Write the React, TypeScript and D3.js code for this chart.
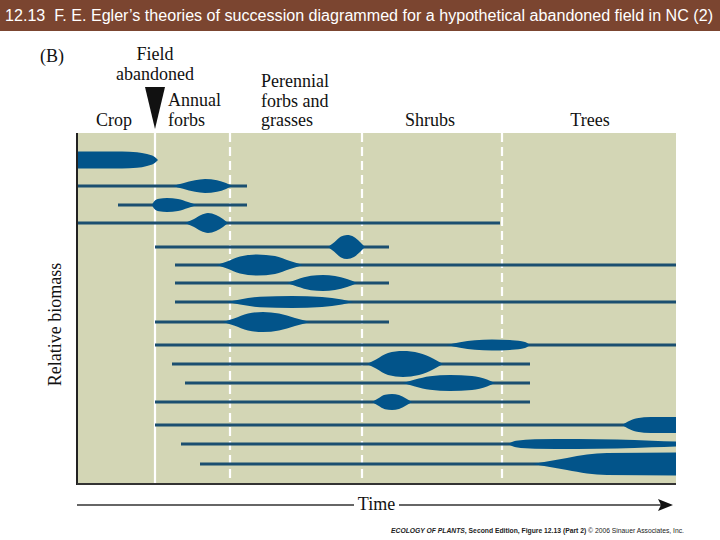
import React from "react";
import * as d3 from "d3";

// ---- Data (time units along x, row level & half-thickness in biomass units) ----
const phaseLabels = ["Crop", "Annual forbs", "Perennial forbs and grasses", "Shrubs", "Trees"];
const fieldAbandoned = 78;
const phaseBoundaries = [153, 285, 425];

const rowLevels = [27, 53, 72, 90, 114, 132, 150, 169, 189, 212, 231, 250, 269, 292, 311, 331];
// presence line [start, end] per row (null = no line)
const rowSpans: ([number, number] | null)[] = [
  null,
  [0, 170],
  [41, 170],
  [0, 423],
  [78, 312],
  [98, 599],
  [98, 312],
  [98, 599],
  [78, 312],
  [78, 599],
  [95, 453],
  [108, 453],
  [78, 453],
  [78, 599],
  [104, 599],
  [123, 599],
];
// biomass profile per row: [time, half-thickness]
const rowProfiles: [number, number][][] = [
  [[0, 8.5], [45, 8.5], [60, 7.8], [70, 6], [77, 3.5], [81, 0]],
  [[96, 0], [106, 2.8], [118, 5.8], [128, 7], [140, 5.8], [149, 3], [155, 0]],
  [[75, 0], [77, 3.5], [82, 6.2], [90, 7], [101, 6], [111, 3], [120, 0]],
  [[108, 0], [116, 3.5], [124, 8], [131, 10], [139, 8], [146, 4], [151, 0]],
  [[251, 0], [257, 4.5], [264, 10.5], [270, 12], [277, 10], [283, 5], [288, 0]],
  [[140, 0], [150, 3.5], [163, 8.5], [180, 10.5], [198, 9], [213, 4], [226, 0]],
  [[210, 0], [220, 3.5], [234, 7.2], [246, 8], [258, 7], [270, 4], [280, 0]],
  [[150, 0], [163, 2.5], [183, 5.2], [215, 6], [245, 5], [265, 2.5], [276, 0]],
  [[146, 0], [157, 3.5], [171, 8.5], [186, 10], [202, 8.5], [218, 4], [233, 0]],
  [[370, 0], [383, 2.8], [398, 4.8], [415, 5.5], [435, 4.8], [448, 3], [453, 0]],
  [[290, 0], [299, 4.5], [311, 11], [326, 13], [342, 11], [356, 5.5], [366, 0]],
  [[326, 0], [338, 3.5], [353, 6.8], [373, 8], [395, 7], [410, 3.5], [418, 0]],
  [[295, 0], [301, 3.5], [308, 7.2], [315, 8], [322, 7], [329, 3.5], [335, 0]],
  [[545, 0], [551, 3.5], [560, 6.8], [574, 8], [599, 8]],
  [[431, 0], [439, 3.2], [458, 4.7], [500, 5], [540, 4.5], [575, 3.3], [599, 2.4]],
  [[456, 0], [470, 2.5], [490, 6], [510, 9.5], [530, 11], [599, 11.5]],
];

const titleText =
  "12.13  F. E. Egler\u2019s theories of succession diagrammed for a hypothetical abandoned field in NC (2)";

export default function App() {
  const W = 720;
  const H = 540;
  const plotLeft = 77;
  const plotRight = 676;
  const plotTop = 133;
  const plotBottom = 484;

  const x = d3.scaleLinear().domain([0, 599]).range([plotLeft, plotRight]);
  const y = d3.scaleLinear().domain([0, 351]).range([plotTop, plotBottom]);
  const h = (v: number) => y(v) - y(0);

  const blobColor = "#02548a";
  const lineColor = "#1b4f70";
  const serif = "'Liberation Serif', 'DejaVu Serif', serif";
  const sans = "'Liberation Sans', Arial, sans-serif";

  return (
    <svg
      width={W}
      height={H}
      viewBox={`0 0 ${W} ${H}`}
      style={{ position: "absolute", left: 0, top: 0, background: "#fff" }}
    >
      {/* Title bar */}
      <rect x={0} y={0} width={W} height={31} fill="#7b4530" />
      <text
        x={5}
        y={21}
        fill="#fff"
        fontFamily={sans}
        fontSize={16}
        textLength={708}
        lengthAdjust="spacingAndGlyphs"
        style={{ whiteSpace: "pre" }}
      >
        {titleText}
      </text>

      {/* Plot background */}
      <rect
        x={plotLeft}
        y={plotTop}
        width={plotRight - plotLeft}
        height={plotBottom - plotTop}
        fill="#d3d6b5"
      />

      {/* Field abandoned line */}
      <line
        x1={x(fieldAbandoned)}
        x2={x(fieldAbandoned)}
        y1={plotTop}
        y2={plotBottom}
        stroke="#fff"
        strokeWidth={2.2}
      />
      {phaseBoundaries.map((b, i) => (
        <line
          key={i}
          x1={x(b)}
          x2={x(b)}
          y1={plotTop}
          y2={plotBottom}
          stroke="#fff"
          strokeWidth={2.2}
          strokeDasharray="9,5"
        />
      ))}

      {/* Presence lines */}
      {rowSpans.map((s, i) =>
        s ? (
          <line
            key={"l" + i}
            x1={x(s[0])}
            x2={x(s[1])}
            y1={y(rowLevels[i])}
            y2={y(rowLevels[i])}
            stroke={lineColor}
            strokeWidth={3}
          />
        ) : null
      )}

      {/* Biomass blobs */}
      {rowProfiles.map((p, i) => {
        const area = d3
          .area<[number, number]>()
          .x((d) => x(d[0]))
          .y0((d) => y(rowLevels[i]) - h(d[1]))
          .y1((d) => y(rowLevels[i]) + h(d[1]))
          .curve(d3.curveMonotoneX);
        return <path key={"b" + i} d={area(p) || ""} fill={blobColor} />;
      })}

      {/* Axes frame */}
      <line x1={plotLeft} x2={plotLeft} y1={plotTop} y2={plotBottom + 1} stroke="#222" strokeWidth={2} />
      <line x1={plotLeft} x2={plotRight} y1={plotBottom} y2={plotBottom} stroke="#333" strokeWidth={2} />

      {/* Top labels */}
      <g fontFamily={serif} fontSize={18} fill="#111">
        <text x={40} y={62}>(B)</text>
        <text x={x(fieldAbandoned)} y={60} textAnchor="middle">Field</text>
        <text x={x(fieldAbandoned)} y={80} textAnchor="middle">abandoned</text>
        <text x={96} y={126}>{phaseLabels[0]}</text>
        <text x={168} y={106}>Annual</text>
        <text x={168} y={126}>forbs</text>
        <text x={261} y={87}>Perennial</text>
        <text x={261} y={107}>forbs and</text>
        <text x={261} y={126}>grasses</text>
        <text x={430} y={126} textAnchor="middle">{phaseLabels[3]}</text>
        <text x={590} y={126} textAnchor="middle">{phaseLabels[4]}</text>
      </g>
      <path
        d={`M${x(fieldAbandoned) - 10},87 L${x(fieldAbandoned) + 10},87 L${x(fieldAbandoned)},129 Z`}
        fill="#111"
      />

      {/* Y label */}
      <text
        transform={`translate(61,${(plotTop + plotBottom) / 2 + 16}) rotate(-90)`}
        textAnchor="middle"
        fontFamily={serif}
        fontSize={18}
        fill="#111"
      >
        Relative biomass
      </text>

      {/* Time arrow */}
      <line x1={plotLeft} x2={354} y1={505} y2={505} stroke="#333" strokeWidth={1.3} />
      <line x1={399} x2={662} y1={505} y2={505} stroke="#333" strokeWidth={1.3} />
      <path d="M658,499 L673,505 L658,511 L661,505 Z" fill="#111" />
      <text x={376.5} y={510} textAnchor="middle" fontFamily={serif} fontSize={18} fill="#111">
        Time
      </text>

      {/* Credit */}
      <text
        x={391}
        y={533}
        fontFamily={sans}
        fontSize={7}
        fill="#222"
        textLength={293}
        lengthAdjust="spacingAndGlyphs"
      >
        <tspan fontStyle="italic" fontWeight="bold">ECOLOGY OF PLANTS</tspan>
        <tspan fontWeight="bold">, Second Edition, Figure 12.13 (Part 2)</tspan>
        <tspan> © 2006 Sinauer Associates, Inc.</tspan>
      </text>
    </svg>
  );
}
